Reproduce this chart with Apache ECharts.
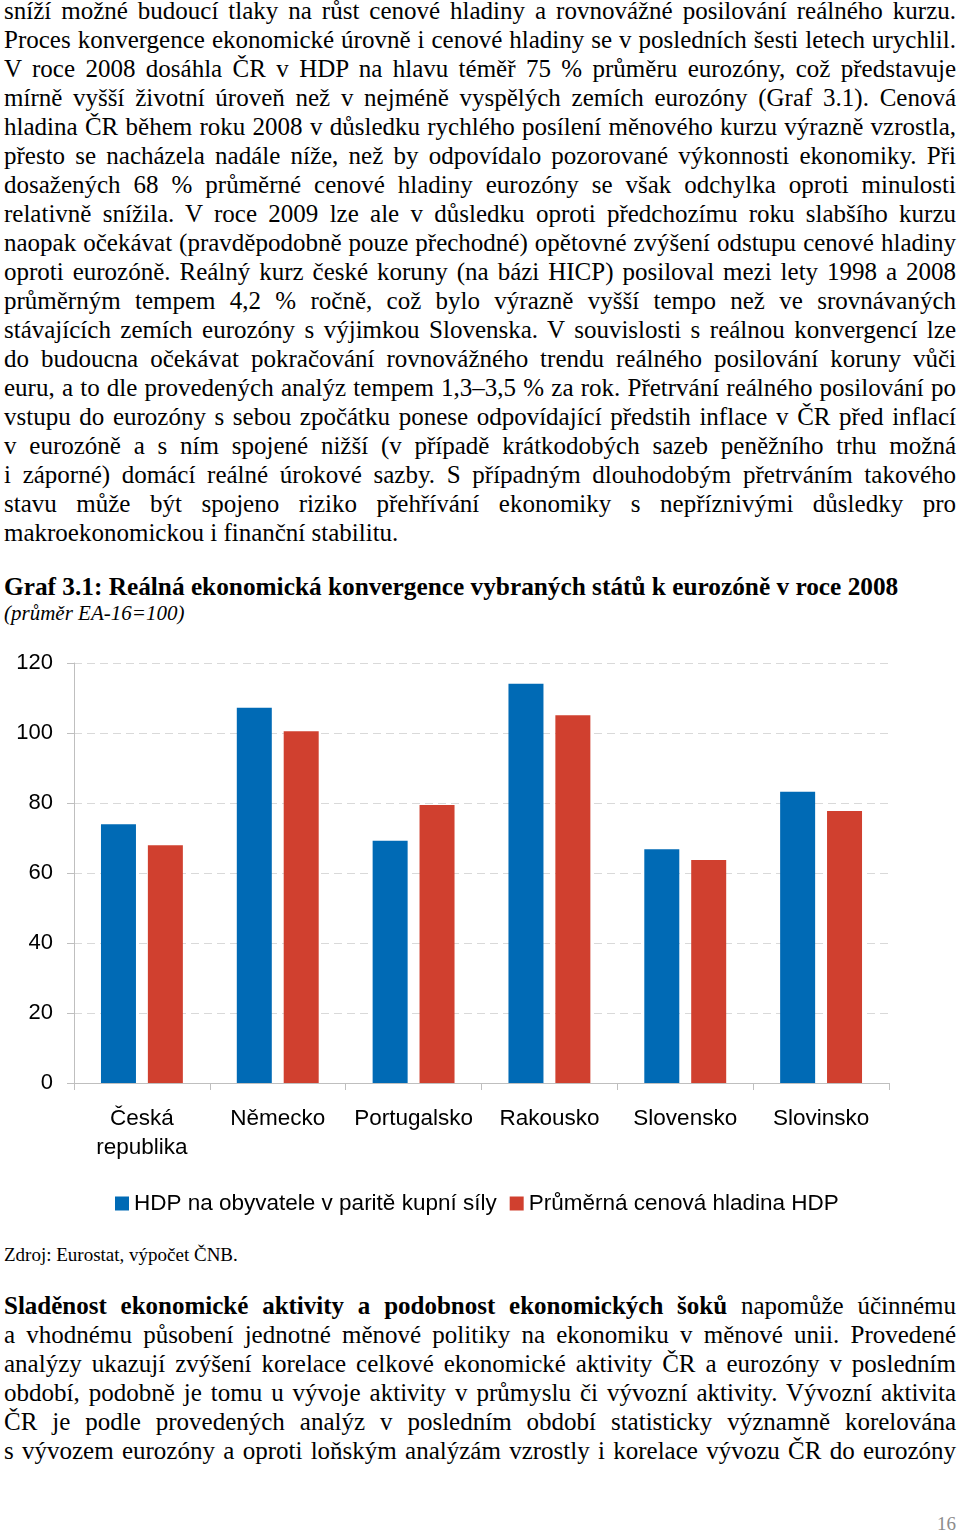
<!DOCTYPE html>
<html>
<head>
<meta charset="utf-8">
<script src="https://cdn.jsdelivr.net/npm/echarts@6/dist/echarts.min.js"></script>
<style>
  html, body { margin: 0; padding: 0; background: #fff; }
  body { width: 960px; height: 1533px; position: relative; overflow: hidden; font-family: "Liberation Serif", "Times New Roman", serif; color: #000; }
  .blk { position: absolute; left: 4px; width: 952px; }
  .txt { font-size: 25px; line-height: 29px; }
  .l { text-align: justify; text-align-last: justify; }
  .last { text-align: left; text-align-last: left; }
  #title { font-weight: bold; font-size: 25.3px; line-height: 29px; }
  #sub { font-style: italic; font-size: 21px; line-height: 25px; }
  #src { font-size: 19px; line-height: 22px; }
  #pg { position: absolute; right: 4px; font-size: 19px; line-height: 22px; color: #8c8c8c; }
  #chart { position: absolute; left: 0; top: 640px; width: 960px; height: 600px; }
</style>
</head>
<body>
<div class="blk txt" style="top:-4px">
  <div class="l">sníží možné budoucí tlaky na růst cenové hladiny a rovnovážné posilování reálného kurzu.</div>
  <div class="l">Proces konvergence ekonomické úrovně i cenové hladiny se v posledních šesti letech urychlil.</div>
  <div class="l">V roce 2008 dosáhla ČR v&nbsp;HDP na hlavu téměř 75 % průměru eurozóny, což představuje</div>
  <div class="l">mírně vyšší životní úroveň než v nejméně vyspělých zemích eurozóny (Graf 3.1). Cenová</div>
  <div class="l">hladina ČR během roku 2008 v důsledku rychlého posílení měnového kurzu výrazně vzrostla,</div>
  <div class="l">přesto se nacházela nadále níže, než by odpovídalo pozorované výkonnosti ekonomiky. Při</div>
  <div class="l">dosažených 68 % průměrné cenové hladiny eurozóny se však odchylka oproti minulosti</div>
  <div class="l">relativně snížila. V roce 2009 lze ale v&nbsp;důsledku oproti předchozímu roku slabšího kurzu</div>
  <div class="l">naopak očekávat (pravděpodobně pouze přechodné) opětovné zvýšení odstupu cenové hladiny</div>
  <div class="l">oproti eurozóně. Reálný kurz české koruny (na bázi HICP) posiloval mezi lety 1998 a 2008</div>
  <div class="l">průměrným tempem 4,2 % ročně, což bylo výrazně vyšší tempo než ve&nbsp;srovnávaných</div>
  <div class="l">stávajících zemích eurozóny s&nbsp;výjimkou Slovenska. V souvislosti s&nbsp;reálnou konvergencí lze</div>
  <div class="l">do budoucna očekávat pokračování rovnovážného trendu reálného posilování koruny vůči</div>
  <div class="l">euru, a to dle provedených analýz tempem 1,3–3,5 % za rok. Přetrvání reálného posilování po</div>
  <div class="l">vstupu do eurozóny s sebou zpočátku ponese odpovídající předstih inflace v ČR před inflací</div>
  <div class="l">v&nbsp;eurozóně a s&nbsp;ním spojené nižší (v případě krátkodobých sazeb peněžního trhu možná</div>
  <div class="l">i&nbsp;záporné) domácí reálné úrokové sazby. S případným dlouhodobým přetrváním takového</div>
  <div class="l">stavu může být spojeno riziko přehřívání ekonomiky s nepříznivými důsledky pro</div>
  <div class="l last">makroekonomickou i finanční stabilitu.</div>
</div>

<div class="blk" id="title" style="top:572px">Graf 3.1: Reálná ekonomická konvergence vybraných států k eurozóně v roce 2008</div>
<div class="blk" id="sub" style="top:601px">(průměr EA-16=100)</div>

<div id="chart"></div>

<div class="blk" id="src" style="top:1244px">Zdroj: Eurostat, výpočet ČNB.</div>

<div class="blk txt" style="top:1291px">
  <div class="l"><b>Sladěnost ekonomické aktivity a podobnost ekonomických šoků</b> napomůže účinnému</div>
  <div class="l">a&nbsp;vhodnému působení jednotné měnové politiky na ekonomiku v měnové unii. Provedené</div>
  <div class="l">analýzy ukazují zvýšení korelace celkové ekonomické aktivity ČR a eurozóny v&nbsp;posledním</div>
  <div class="l">období, podobně je tomu u vývoje aktivity v&nbsp;průmyslu či vývozní aktivity. Vývozní aktivita</div>
  <div class="l">ČR je podle provedených analýz v posledním období statisticky významně korelována</div>
  <div class="l">s&nbsp;vývozem eurozóny a oproti loňským analýzám vzrostly i korelace vývozu ČR do eurozóny</div>
</div>

<div id="pg" style="top:1513px">16</div>

<script>
const categories = ['Česká\nrepublika', 'Německo', 'Portugalsko', 'Rakousko', 'Slovensko', 'Slovinsko'];
const seriesNames = ['HDP na obyvatele v paritě kupní síly', 'Průměrná cenová hladina HDP'];
const hdpPPS = [73.9, 107.2, 69.2, 114.1, 66.8, 83.2];
const priceLevel = [67.9, 100.5, 79.4, 105.1, 63.7, 77.7];
const yTicks = { min: 0, max: 120, interval: 20 };

const chart = echarts.init(document.getElementById('chart'), null, { renderer: 'canvas' });
const axisGray = '#bfbfbf';
const sans = '"Liberation Sans", Arial, sans-serif';
chart.setOption({
  animation: false,
  color: ['#006AB5', '#D0402F'],
  grid: { left: 74, right: 71, top: 23, height: 420, containLabel: false },
  legend: {
    data: seriesNames,
    left: 115, top: 552, padding: 0,
    itemWidth: 14, itemHeight: 14, itemGap: 13,
    icon: 'rect',
    textStyle: { fontFamily: sans, fontSize: 22.5, color: '#000', lineHeight: 22 }
  },
  xAxis: {
    type: 'category',
    data: categories,
    axisLine: { lineStyle: { color: axisGray, width: 1 } },
    axisTick: { show: true, length: 7, lineStyle: { color: axisGray } },
    axisLabel: { fontFamily: sans, fontSize: 22.5, color: '#000', lineHeight: 29, margin: 21, interval: 0 }
  },
  yAxis: {
    type: 'value',
    min: yTicks.min, max: yTicks.max, interval: yTicks.interval,
    axisLine: { show: true, lineStyle: { color: axisGray, width: 1 } },
    axisTick: { show: true, length: 7, lineStyle: { color: axisGray } },
    axisLabel: { fontFamily: sans, fontSize: 22, color: '#000', margin: 21 },
    splitLine: { show: true, lineStyle: { color: '#d9d9d9', type: [8, 5], width: 1 } }
  },
  series: [
    { name: seriesNames[0], type: 'bar', data: hdpPPS, barWidth: 35, barGap: '34%' },
    { name: seriesNames[1], type: 'bar', data: priceLevel, barWidth: 35, barGap: '34%' }
  ]
});
</script>
</body>
</html>
